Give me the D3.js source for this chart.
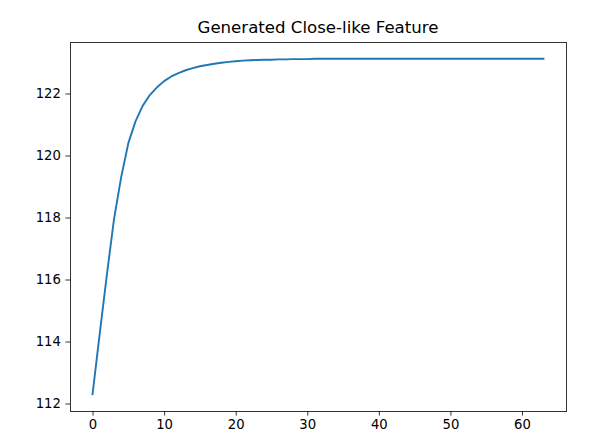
<!DOCTYPE html>
<html>
<head>
<meta charset="utf-8">
<script src="https://cdn.jsdelivr.net/npm/d3@7"></script>
<style>
  html, body { margin: 0; padding: 0; background: #fff; }
  svg { display: block; }
  text { font-family: "DejaVu Sans", sans-serif; fill: #000; }
</style>
</head>
<body>
<svg id="chart" width="605" height="443"></svg>
<script>
const title = "Generated Close-like Feature";
const xValues = d3.range(0, 64);
const yValues = [
  112.30, 114.25, 116.15, 117.95, 119.30, 120.40, 121.10, 121.60, 121.95, 122.20,
  122.40, 122.55, 122.66, 122.75, 122.82, 122.88, 122.92, 122.96, 122.99, 123.02,
  123.04, 123.06, 123.07, 123.08, 123.09, 123.09, 123.10, 123.10, 123.11, 123.11,
  123.11, 123.12, 123.12, 123.12, 123.12, 123.12, 123.12, 123.12, 123.12, 123.12,
  123.12, 123.12, 123.12, 123.12, 123.12, 123.12, 123.12, 123.12, 123.12, 123.12,
  123.12, 123.12, 123.12, 123.12, 123.12, 123.12, 123.12, 123.12, 123.12, 123.12,
  123.12, 123.12, 123.12, 123.12
];
const xTicks = [0, 10, 20, 30, 40, 50, 60];
const yTicks = [112, 114, 116, 118, 120, 122];

const svg = d3.select("#chart");
const m = {left: 70, right: 566, top: 42, bottom: 411};

const xMin = d3.min(xValues), xMax = d3.max(xValues);
const yMin = d3.min(yValues), yMax = d3.max(yValues);
const xPad = (xMax - xMin) * 0.05, yPad = (yMax - yMin) * 0.05;

const x = d3.scaleLinear().domain([xMin - xPad, xMax + xPad]).range([m.left, m.right]);
const y = d3.scaleLinear().domain([yMin - yPad, yMax + yPad]).range([m.bottom, m.top]);

const data = xValues.map((v, i) => [v, yValues[i]]);

svg.append("path")
  .datum(data)
  .attr("fill", "none")
  .attr("stroke", "#1f77b4")
  .attr("stroke-width", 1.9)
  .attr("stroke-linejoin", "round")
  .attr("stroke-linecap", "square")
  .attr("d", d3.line().x(d => x(d[0])).y(d => y(d[1])));

const xAxis = svg.append("g")
  .attr("transform", `translate(0,${m.bottom})`)
  .call(d3.axisBottom(x).tickValues(xTicks).tickSize(4.6).tickPadding(4.5).tickFormat(d3.format("d")));
const yAxis = svg.append("g")
  .attr("transform", `translate(${m.left},0)`)
  .call(d3.axisLeft(y).tickValues(yTicks).tickSize(4.6).tickPadding(4.5).tickFormat(d3.format("d")));

[xAxis, yAxis].forEach(a => {
  a.select(".domain").remove();
  a.selectAll(".tick line").attr("stroke", "#000").attr("stroke-width", 0.8);
  a.selectAll(".tick text").attr("font-size", "13.2px").attr("font-family", "DejaVu Sans, sans-serif").attr("fill", "#000");
});

svg.append("rect")
  .attr("x", m.left).attr("y", m.top)
  .attr("width", m.right - m.left).attr("height", m.bottom - m.top)
  .attr("fill", "none").attr("stroke", "#000").attr("stroke-width", 0.8)
  .attr("shape-rendering", "crispEdges");

svg.append("text")
  .attr("x", (m.left + m.right) / 2)
  .attr("y", 33)
  .attr("text-anchor", "middle")
  .attr("font-size", "16.6px")
  .text(title);
</script>
</body>
</html>
